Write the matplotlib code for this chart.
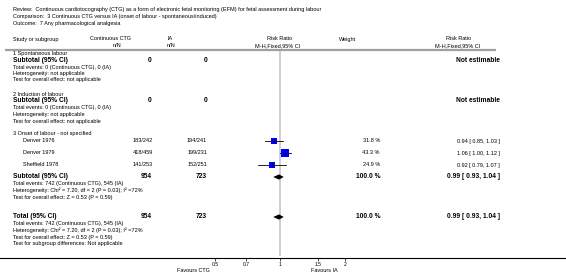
import numpy as np
import matplotlib
matplotlib.use("Agg")
import matplotlib.pyplot as plt
from matplotlib.ticker import FixedLocator, FixedFormatter, NullLocator

plt.rcParams['font.family'] = ['Liberation Sans', 'DejaVu Sans']

# data
studies = ["Denver 1976", "Denver 1979", "Sheffield 1978"]
ctg_events = [183, 418, 141]
ctg_total = [242, 459, 253]
ia_events = [194, 199, 152]
ia_total = [241, 231, 251]
weights = [31.8, 43.3, 24.9]
rr = [0.94, 1.06, 0.92]
rr_lo = [0.85, 1.00, 0.79]
rr_hi = [1.03, 1.12, 1.07]
pooled = (0.99, 0.93, 1.04)
ticks = [0.5, 0.7, 1, 1.5, 2]
tick_labels = ["0.5", "0.7", "1", "1.5", "2"]

W, H = 566, 276
fig = plt.figure(figsize=(W / 100, H / 100), dpi=100)
ax = fig.add_axes([0, 0, 1, 1])
ax.set_xlim(0, W)
ax.set_ylim(H, 0)
ax.axis('off')

fs = 4.0
fsb = 4.8


def txt(x, y, s, bold=False, ha='left', size=None):
    ax.text(x, y, s, ha=ha, va='center',
            fontsize=size or (fsb if bold else fs),
            fontweight='bold' if bold else 'normal', color='black')


# heading
txt(13, 10, "Review:  Continuous cardiotocography (CTG) as a form of electronic fetal monitoring (EFM) for fetal assessment during labour")
txt(13, 16.5, "Comparison:  3 Continuous CTG versus IA (onset of labour - spontaneous/induced)")
txt(13, 23, "Outcome:  7 Any pharmacological analgesia")

# column headers
txt(13, 39, "Study or subgroup")
txt(90, 39, "Continuous CTG")
txt(121, 45.5, "n/N", ha='right')
txt(167, 39, "IA")
txt(167, 45.5, "n/N")
txt(280, 39, "Risk Ratio", ha='center')
txt(278, 45.5, "M-H,Fixed,95% CI", ha='center')
txt(339, 39, "Weight")
txt(459, 39, "Risk Ratio", ha='center')
txt(458, 45.5, "M-H,Fixed,95% CI", ha='center')
ax.plot([5, 496], [50, 50], color='#a0a0a0', lw=1.6, solid_capstyle='butt')

c_ctg, c_ia, c_w, c_rr = 152, 207, 380, 500

# empty subgroups
for y0, name in [(53, "1 Spontaneous labour"), (94, "2 Induction of labour")]:
    txt(13, y0, name)
    txt(13, y0 + 7, "Subtotal (95% CI)", bold=True)
    txt(c_ctg, y0 + 7, "0", bold=True, ha='right')
    txt(c_ia, y0 + 7, "0", bold=True, ha='right')
    txt(c_rr, y0 + 7, "Not estimable", bold=True, ha='right')
    txt(13, y0 + 14, "Total events: 0 (Continuous CTG), 0 (IA)")
    txt(13, y0 + 20.5, "Heterogeneity: not applicable")
    txt(13, y0 + 27, "Test for overall effect: not applicable")

# subgroup 3
txt(13, 134, "3 Onset of labour - not specified")
study_y = [141, 153, 165]
for i, y in enumerate(study_y):
    txt(23, y, studies[i])
    txt(c_ctg + 1, y, f"{ctg_events[i]}/{ctg_total[i]}", ha='right')
    txt(c_ia, y, f"{ia_events[i]}/{ia_total[i]}", ha='right')
    txt(c_w, y, f"{weights[i]:.1f} %", ha='right')
    txt(c_rr, y, f"{rr[i]:.2f} [ {rr_lo[i]:.2f}, {rr_hi[i]:.2f} ]", ha='right')

n_ctg = sum(ctg_total)
n_ia = sum(ia_total)
ev_ctg = sum(ctg_events)
ev_ia = sum(ia_events)
pooled_txt = f"{pooled[0]:.2f} [ {pooled[1]:.2f}, {pooled[2]:.2f} ]"
het = "Heterogeneity: Chi\u00b2 = 7.20, df = 2 (P = 0.03); I\u00b2 =72%"
zt = "Test for overall effect: Z = 0.53 (P = 0.59)"

for y0, label in [(177, "Subtotal (95% CI)"), (217, "Total (95% CI)")]:
    txt(13, y0, label, bold=True)
    txt(c_ctg, y0, str(n_ctg), bold=True, ha='right')
    txt(c_ia, y0, str(n_ia), bold=True, ha='right')
    txt(c_w, y0, "100.0 %", bold=True, ha='right')
    txt(c_rr, y0, pooled_txt, bold=True, ha='right')
    txt(13, y0 + 6.5, f"Total events: {ev_ctg} (Continuous CTG), {ev_ia} (IA)")
    txt(13, y0 + 13.5, het)
    txt(13, y0 + 20, zt)
txt(13, 243, "Test for subgroup differences: Not applicable")

# forest plot on log scale
fx = fig.add_axes([0, 0, 1, 1])
fx.patch.set_visible(False)
fx.set_xscale('log')
fx.set_xlim(np.exp(-280 / 94), np.exp(286 / 94))
fx.set_ylim(H, 0)
for s in ['left', 'top', 'right']:
    fx.spines[s].set_visible(False)
fx.spines['bottom'].set_position(('data', 257.5))
fx.spines['bottom'].set_linewidth(0.8)
fx.yaxis.set_visible(False)
fx.xaxis.set_major_locator(FixedLocator(ticks))
fx.xaxis.set_major_formatter(FixedFormatter(tick_labels))
fx.xaxis.set_minor_locator(NullLocator())
fx.tick_params(axis='x', direction='out', length=2, width=0.5, labelsize=3.6, pad=1.5)

fx.vlines(1, 51, 256, color='#cccccc', lw=1.3, zorder=1)

for i, y in enumerate(study_y):
    fx.plot([rr_lo[i], rr_hi[i]], [y, y], color='black', lw=0.6, zorder=3)
    fx.plot(rr[i], y, marker='s', color='#0000ff', markersize=0.78 * np.sqrt(weights[i]),
            markeredgewidth=0, zorder=4)
    fx.plot(rr[i], y, marker='+', color='black', markersize=2.5, markeredgewidth=0.4, zorder=5)

for y0 in [177, 217]:
    est, lo, hi = pooled
    fx.fill([lo, est, hi, est], [y0, y0 - 2.6, y0, y0 + 2.6], color='black', lw=0, zorder=4)

txt(193, 270, "Favours CTG", ha='center')
txt(324, 270, "Favours IA", ha='center')

fig.savefig("out.png", dpi=100)
